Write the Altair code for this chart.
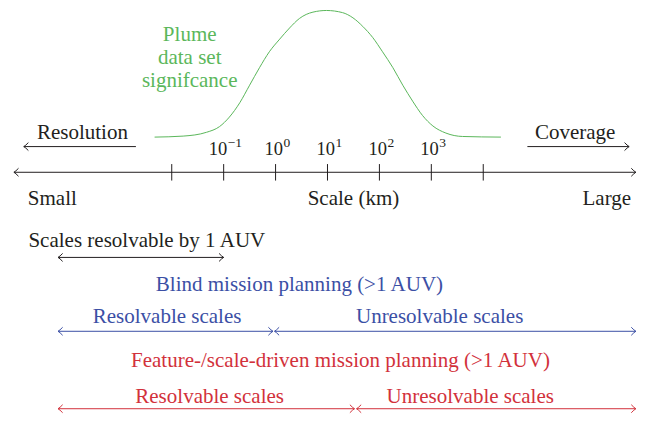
import altair as alt
import pandas as pd

# ---------------- data ----------------
# scale axis positions are log10(km)
tick_logs = [-2, -1, 0, 1, 2, 3, 4]
label_logs = [-1, 0, 1, 2, 3]
label_exps = ["\u22121", "0", "1", "2", "3"]

# plume data set significance curve, x = log10(km), s = relative significance
curve_x = [-2.33, -1.78, -1.33, -1.08, -0.89, -0.69, -0.50, -0.31, -0.12, 0.08, 0.27, 0.46,
           0.72, 0.98, 1.29, 1.49, 1.68, 1.87, 2.06, 2.26, 2.45, 2.64, 2.83, 3.03, 3.28, 3.60, 4.34]
curve_s = [0.00, 0.008, 0.038, 0.083, 0.158, 0.271, 0.410, 0.548, 0.674, 0.774, 0.862, 0.937,
           0.987, 1.00, 0.983, 0.942, 0.874, 0.787, 0.674, 0.548, 0.410, 0.284, 0.171, 0.088,
           0.032, 0.005, 0.00]

plume_lines = ["Plume", "data set", "signifcance"]

axis_words = ["Small", "Scale (km)", "Large"]
axis_word_x = [-4.30, 1.50, 6.38]

# arrows: start, end (log10 km), row, colour, heads
arrow_names = ["resolution", "coverage", "axis", "auv1", "blind_res", "blind_unres", "feat_res", "feat_unres"]
arrow_start = [-4.85, 4.85, -5.04, -4.19, -4.19, -0.02, -4.19, 1.56]
arrow_end = [-2.69, 6.81, 6.94, -1.00, -0.05, 6.94, 1.52, 6.94]
arrow_heads = ["left", "right", "both", "both", "both", "both", "both", "both"]

# captions
caption_text = ["Resolution", "Coverage", "Scales resolvable by 1 AUV",
                "Blind mission planning (>1 AUV)", "Resolvable scales", "Unresolvable scales",
                "Feature-/scale-driven mission planning (>1 AUV)", "Resolvable scales", "Unresolvable scales"]
caption_x = [-3.72, 5.77, -2.48, 0.46, -2.09, 3.16, 1.25, -1.27, 3.75]

# ---------------- style / layout ----------------
BLACK = "#231f20"
GREEN = "#5bb75b"
BLUE = "#3b4fa5"
RED = "#d2313b"
FONT = "Liberation Serif"

X0, X1 = -5.1538, 6.9615  # log10 domain spanning the view
W, H = 630, 407

arrow_rows = {"resolution": 139.3, "coverage": 139.3, "axis": 165.3, "auv1": 251.5,
              "blind_res": 326.3, "blind_unres": 326.3, "feat_res": 404.7, "feat_unres": 404.7}
arrow_cols = {"resolution": BLACK, "coverage": BLACK, "axis": BLACK, "auv1": BLACK,
              "blind_res": BLUE, "blind_unres": BLUE, "feat_res": RED, "feat_unres": RED}
caption_rows = [132.0, 132.0, 241.0, 285.3, 318.0, 318.0, 362.7, 398.7, 398.7]
caption_cols = [BLACK, BLACK, BLACK, BLUE, BLUE, BLUE, RED, RED, RED]
plume_rows = [32.7, 56.0, 79.3]
plume_x = -1.654
word_row = 198.0
label_row = 147.7
tick_top, tick_bot = 157.0, 173.7
FS = 21

xs = alt.Scale(domain=[X0, X1], nice=False, zero=False)
ys = alt.Scale(domain=[H, 0], nice=False, zero=False)


def X(f="x"):
    return alt.X(f"{f}:Q", scale=xs, axis=None)


def Y(f="y"):
    return alt.Y(f"{f}:Q", scale=ys, axis=None)


# arrows
arrows = pd.DataFrame({
    "name": arrow_names, "x": arrow_start, "x2": arrow_end,
})
arrows["y"] = arrows["name"].map(arrow_rows)
arrows["color"] = arrows["name"].map(arrow_cols)

heads = []
for n, a, b, h in zip(arrow_names, arrow_start, arrow_end, arrow_heads):
    if h in ("left", "both"):
        heads.append({"x": a, "y": arrow_rows[n], "color": arrow_cols[n], "dir": "left"})
    if h in ("right", "both"):
        heads.append({"x": b, "y": arrow_rows[n], "color": arrow_cols[n], "dir": "right"})
heads = pd.DataFrame(heads)

RIGHT_HEAD = "M-1.15,-1Q-0.45,-0.25,0,0Q-0.45,0.25,-1.15,1"
LEFT_HEAD = "M1.15,-1Q0.45,-0.25,0,0Q0.45,0.25,1.15,1"

rules = alt.Chart(arrows).mark_rule(strokeWidth=1, strokeCap="butt").encode(
    x=X("x"), x2="x2:Q", y=Y("y"), color=alt.Color("color:N", scale=None))

rh = alt.Chart(heads[heads["dir"] == "right"]).mark_point(
    shape=RIGHT_HEAD, filled=False, size=64, strokeWidth=1, opacity=1).encode(
    x=X("x"), y=Y("y"), color=alt.Color("color:N", scale=None))
lh = alt.Chart(heads[heads["dir"] == "left"]).mark_point(
    shape=LEFT_HEAD, filled=False, size=64, strokeWidth=1, opacity=1).encode(
    x=X("x"), y=Y("y"), color=alt.Color("color:N", scale=None))

# ticks on the scale axis
ticks = pd.DataFrame({"x": tick_logs, "y": tick_top, "y2": tick_bot})
tick_marks = alt.Chart(ticks).mark_rule(strokeWidth=1, color=BLACK).encode(
    x=X("x"), y=Y("y"), y2="y2:Q")

# tick labels: "10" + superscript exponent
PXU = 52.0  # pixels per decade
lab = pd.DataFrame({"v": label_logs, "e": label_exps})
lab["x"] = lab["v"] + lab["e"].str.len().map({1: 7.5, 2: 3.6}) / PXU
lab["y"] = label_row
lab["ye"] = label_row - 7.6
lab["base"] = "10"
base_txt = alt.Chart(lab).mark_text(align="right", baseline="alphabetic", font=FONT,
                                    fontSize=18.5, color=BLACK).encode(
    x=X("x"), y=Y("y"), text="base:N")
exp_txt = alt.Chart(lab).mark_text(align="left", baseline="alphabetic", font=FONT,
                                   fontSize=13.5, color=BLACK, dx=0.5).encode(
    x=X("x"), y=Y("ye"), text="e:N")

# words under the axis
words = pd.DataFrame({"x": axis_word_x, "y": word_row, "t": axis_words})
word_txt = alt.Chart(words).mark_text(align="center", baseline="alphabetic", font=FONT,
                                      fontSize=FS, color=BLACK).encode(
    x=X("x"), y=Y("y"), text="t:N")

# captions
caps = pd.DataFrame({"x": caption_x, "y": caption_rows, "t": caption_text, "color": caption_cols})
cap_txt = alt.Chart(caps).mark_text(align="center", baseline="alphabetic", font=FONT,
                                    fontSize=FS).encode(
    x=X("x"), y=Y("y"), text="t:N", color=alt.Color("color:N", scale=None))

# plume label
plume = pd.DataFrame({"x": plume_x, "y": plume_rows, "t": plume_lines})
plume_txt = alt.Chart(plume).mark_text(align="center", baseline="alphabetic", font=FONT,
                                       fontSize=FS, color=GREEN).encode(
    x=X("x"), y=Y("y"), text="t:N")

layout_part = alt.layer(rules, rh, lh, tick_marks, base_txt, exp_txt, word_txt, cap_txt, plume_txt)

# curve, on its own vertical scale
curve = pd.DataFrame({"x": curve_x, "s": curve_s})
curve_line = alt.Chart(curve).mark_line(interpolate="monotone", color=GREEN, strokeWidth=1).encode(
    x=X("x"),
    y=alt.Y("s:Q", scale=alt.Scale(domain=[-2.163, 1.0117], nice=False, zero=False), axis=None))

chart = alt.layer(layout_part, curve_line).resolve_scale(y="independent").properties(
    width=W, height=H,
    autosize=alt.AutoSizeParams(type="fit", contains="padding"),
    padding=0,
    background="white",
).configure_view(stroke=None)

chart.save("out.html", embed_options={"renderer": "svg", "actions": False})
